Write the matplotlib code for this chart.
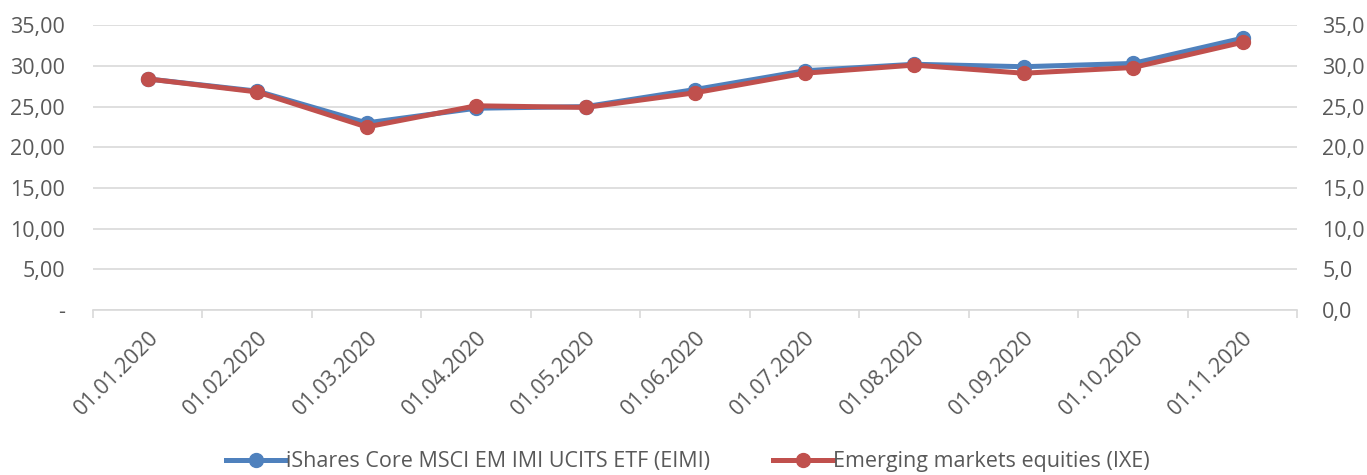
import matplotlib.pyplot as plt
from matplotlib.ticker import FuncFormatter, FixedLocator
import numpy as np

dates = ['01.01.2020', '01.02.2020', '01.03.2020', '01.04.2020', '01.05.2020',
         '01.06.2020', '01.07.2020', '01.08.2020', '01.09.2020', '01.10.2020',
         '01.11.2020']
eimi = [28.4, 26.9, 23.0, 24.8, 25.0, 27.1, 29.4, 30.2, 29.9, 30.3, 33.4]
ixe = [28.4, 26.8, 22.5, 25.1, 24.9, 26.7, 29.1, 30.1, 29.1, 29.8, 32.9]

plt.rcParams['font.family'] = ['Open Sans', 'DejaVu Sans']

fig = plt.figure(figsize=(13.67, 4.75), dpi=100)
ax = fig.add_axes([0.068, 0.347, 0.881, 0.6])
x = np.arange(len(dates))

ax.plot(x, eimi, color='#4F81BD', lw=3.6, marker='o', ms=10,
        label='iShares Core MSCI EM IMI UCITS ETF (EIMI)', zorder=3)
ax.plot(x, ixe, color='#C0504D', lw=3.6, marker='o', ms=10,
        label='Emerging markets equities (IXE)', zorder=4)

ax.set_xlim(-0.5, len(dates) - 0.5)
ax.set_ylim(0, 35)
ax.set_yticks(np.arange(0, 36, 5))
ax.yaxis.set_major_formatter(FuncFormatter(
    lambda v, p: '-' if v == 0 else f'{v:.2f}'.replace('.', ',')))
ax.grid(axis='y', color='#D9D9D9', lw=1.2)
ax.set_axisbelow(True)

for s in ['top', 'right', 'left']:
    ax.spines[s].set_visible(False)
ax.spines['bottom'].set_color('#D9D9D9')
ax.spines['bottom'].set_linewidth(1.2)

# category labels centred, tick marks on boundaries
ax.set_xticks(x)
ax.set_xticklabels(dates, rotation=45, ha='right', rotation_mode='anchor')
ax.xaxis.set_minor_locator(FixedLocator(np.arange(-0.5, len(dates), 1)))
ax.tick_params(axis='x', which='major', length=0, pad=12, labelsize=15.5, labelcolor='#595959')
ax.tick_params(axis='x', which='minor', length=6, color='#D9D9D9', width=1.2)
ax.tick_params(axis='y', length=0, pad=20, labelsize=15.5, labelcolor='#595959')

ax2 = ax.twinx()
ax2.set_ylim(0, 35)
ax2.set_yticks(np.arange(0, 36, 5))
ax2.yaxis.set_major_formatter(FuncFormatter(lambda v, p: f'{v:.1f}'.replace('.', ',')))
for s in ['top', 'right', 'left', 'bottom']:
    ax2.spines[s].set_visible(False)
ax2.tick_params(axis='y', length=0, pad=18, labelsize=15.5, labelcolor='#595959')

leg = fig.legend(loc='center', bbox_to_anchor=(0.503, 0.028), ncol=2, frameon=False,
                 fontsize=15.5, handlelength=2.8, columnspacing=2.9, handletextpad=0.0)
for t in leg.get_texts():
    t.set_color('#595959')

fig.savefig('out.png', dpi=100)
